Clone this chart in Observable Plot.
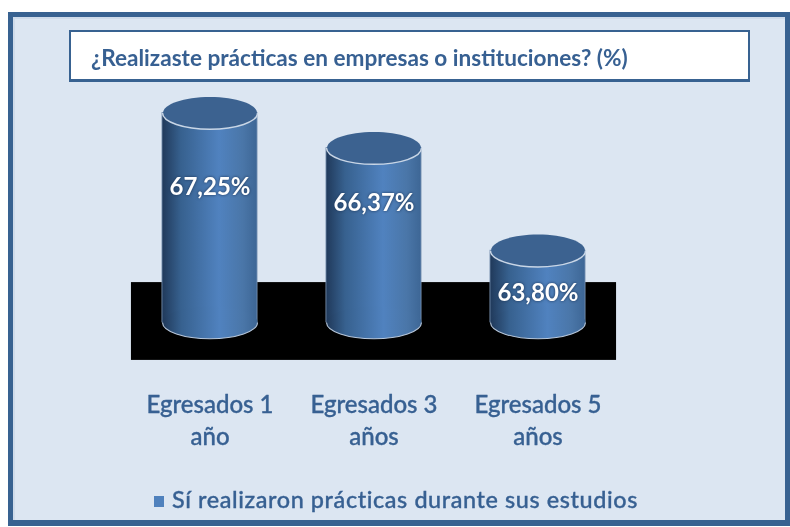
<!DOCTYPE html>
<html lang="es">
<head>
<meta charset="utf-8">
<script src="https://cdn.jsdelivr.net/npm/d3@7"></script>
<script src="https://cdn.jsdelivr.net/npm/@observablehq/plot@0.6"></script>
<style>
  html, body { margin: 0; padding: 0; background: #fff; }
  body { width: 790px; height: 527px; position: relative; overflow: hidden; font-family: Lato, "Open Sans", sans-serif; color: #376092; }
  #frame { position: absolute; left: 8px; top: 12px; width: 772px; height: 503px; background: #dce6f2; border: solid #386291; border-width: 5px 5px 6px 5px; box-shadow: inset 2px 2px 0 #cfdbea; }
  #title { position: absolute; left: 69px; top: 30px; width: 677px; height: 47px; background: #fff; border: 2px solid #386291; border-bottom-width: 3px; font-weight: 700; font-size: 22.6px; line-height: 51px; text-indent: 20px; white-space: nowrap; }
  #chart { position: absolute; left: 0; top: 90px; }
  #legend { position: absolute; left: 154px; top: 482px; font-size: 23.4px; line-height: 34px; white-space: nowrap; font-weight: 500; letter-spacing: 0.6px; -webkit-text-stroke: 0.35px #376092; }
  #legend i { display: inline-block; width: 10px; height: 11px; background: #4f81bd; margin-right: 8px; vertical-align: 1px; }
  svg .value text, svg text.value { filter: drop-shadow(0 0 1.5px #1d3557); }
  #frame, #title, #chart, #legend { filter: blur(0.35px); }
</style>
</head>
<body>
<div id="frame"></div>
<div id="title">¿Realizaste prácticas en empresas o instituciones? (%)</div>
<div id="chart"></div>
<div id="legend"><i></i>Sí realizaron prácticas durante sus estudios</div>
<script>
const categories = ["Egresados 1\naño", "Egresados 3\naños", "Egresados 5\naños"];
const values = [67.25, 66.37, 63.80];
const valueLabels = ["67,25%", "66,37%", "63,80%"];
const labelLevels = [65.38, 64.98, 62.73];   // where each label sits, in axis units
const axisBase = 62;
const floorTop = 63;
const floorBottom = 61.05;

const rows = categories.map((c, i) => ({i, category: c, value: values[i], label: valueLabels[i], level: labelLevels[i]}));

const K = 0.342; // flattening of the cylinder ends
const full = {draw(ctx, size) {
  const r = Math.sqrt(size / Math.PI), ry = r * K, c = 0.5523;
  ctx.moveTo(-r, 0);
  ctx.bezierCurveTo(-r, -ry * c, -r * c, -ry, 0, -ry);
  ctx.bezierCurveTo(r * c, -ry, r, -ry * c, r, 0);
  ctx.bezierCurveTo(r, ry * c, r * c, ry, 0, ry);
  ctx.bezierCurveTo(-r * c, ry, -r, ry * c, -r, 0);
  ctx.closePath();
}};
const lower = {draw(ctx, size) {
  const r = Math.sqrt(size / Math.PI), ry = r * K, c = 0.5523;
  ctx.moveTo(r, 0);
  ctx.bezierCurveTo(r, ry * c, r * c, ry, 0, ry);
  ctx.bezierCurveTo(-r * c, ry, -r, ry * c, -r, 0);
}};

const defs = () => {
  const ns = "http://www.w3.org/2000/svg";
  const d = document.createElementNS(ns, "defs");
  d.innerHTML = `<linearGradient id="side" x1="0" x2="1" y1="0" y2="0">
    <stop offset="0" stop-color="#20395a"/>
    <stop offset="0.2" stop-color="#37618f"/>
    <stop offset="0.6" stop-color="#5082bf"/>
    <stop offset="0.85" stop-color="#4a76a8"/>
    <stop offset="1" stop-color="#3d6695"/>
  </linearGradient>`;
  return d;
};

const R = 47.5;
const plot = Plot.plot({
  width: 790,
  height: 370,
  margin: 0,
  x: {type: "linear", domain: [0, 2], range: [209.5, 537.5], axis: null},
  y: {type: "linear", domain: [axisBase, values[0]], range: [232, 22.5], axis: null},
  marks: [
    defs,
    Plot.rect([0], {x1: -0.479, x2: 2.479, y1: floorBottom, y2: floorTop, fill: "#000"}),
    Plot.rect(rows, {x1: d => d.i - 0.29, x2: d => d.i + 0.29, y1: axisBase, y2: "value", fill: "url(#side)", stroke: "#7f99b8", strokeWidth: 0.8}),
    Plot.dot(rows, {x: "i", y: axisBase, r: R, symbol: full, fill: "url(#side)", stroke: "none"}),
    Plot.dot(rows, {x: "i", y: axisBase, r: R, symbol: lower, fill: "none", stroke: "#b6c6da", strokeWidth: 1.1}),
    Plot.dot(rows, {x: "i", y: "value", r: R - 0.5, symbol: full, fill: "#3c6290", stroke: "none"}),
    Plot.dot(rows, {x: "i", y: "value", r: R, symbol: lower, fill: "none", stroke: "#c9d6e6", strokeWidth: 1.5}),
    Plot.text(rows, {x: "i", y: "level", text: "label", fill: "#fff", fontSize: 24, fontWeight: 700, fontFamily: "Lato", className: "value"}),
    Plot.text(rows, {x: "i", text: "category", frameAnchor: "bottom", lineAnchor: "bottom", lineHeight: 1.33, fontSize: 24, fontWeight: 500, fontFamily: "Lato", fill: "#376092", stroke: "#376092", strokeWidth: 0.35, dy: -16})
  ]
});
plot.style.background = "transparent";
document.getElementById("chart").append(plot);
</script>
</body>
</html>
